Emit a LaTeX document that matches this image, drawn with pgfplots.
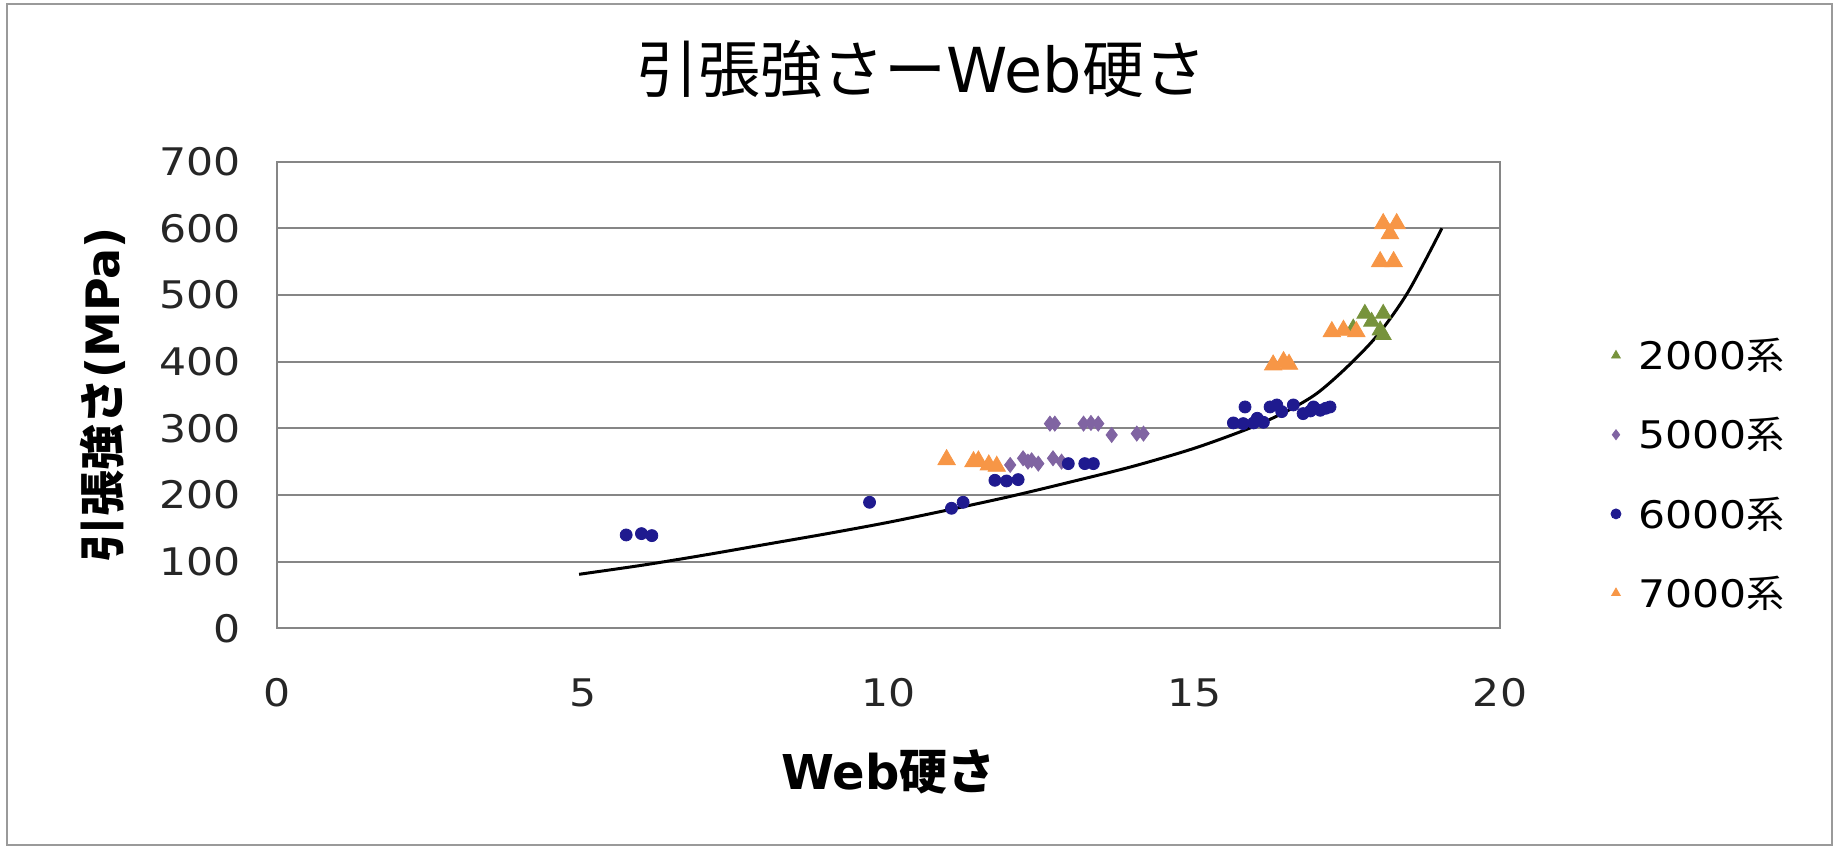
\documentclass[border=0pt]{standalone}
\usepackage{pgfplots}
\pgfplotsset{compat=1.18}
\usepackage{fontspec}
\setmainfont{DejaVu Sans}
\newfontfamily\wide{DejaVu Sans}[FakeStretch=1.12]
\newfontfamily\jp{Noto Sans CJK JP}
\definecolor{gridgray}{HTML}{868686}
\definecolor{framegray}{HTML}{9A9A9A}
\definecolor{s2000}{HTML}{77933C}
\definecolor{s5000}{HTML}{8064A2}
\definecolor{s6000}{HTML}{1F1A8F}
\definecolor{s7000}{HTML}{F79646}
\begin{document}
\begin{tikzpicture}[x=1pt,y=1pt]
\useasboundingbox (0,0) rectangle (917.5,425);
\draw[color=framegray, line width=0.9pt] (3.5,2.5) rectangle (916,423);
\begin{axis}[
  at={(138.5pt,110.85pt)}, anchor=south west,
  scale only axis, width=611.5pt, height=233.35pt,
  xmin=0, xmax=20, ymin=0, ymax=700,
  xtick={0,5,10,15,20}, ytick={0,100,200,300,400,500,600,700},
  ymajorgrids,
  major grid style={gridgray, line width=1pt},
  axis line style={gridgray, line width=1pt},
  major tick length=0pt,
  /pgf/number format/assume math mode=true,
  ticklabel style={font=\wide\fontsize{19}{23}\selectfont, text=black!85},
  xticklabel style={anchor=north, inner sep=0pt, yshift=-25pt},
  yticklabel style={anchor=east, inner sep=0pt, xshift=-18pt},
  title={{\jp 引張強さー}Web{\jp 硬さ}},
  title style={font=\fontsize{31}{36}\selectfont, at={(axis description cs:0.527,1.172)}, anchor=center},
  xlabel={\bfseries Web{\jp\bfseries 硬さ}},
  xlabel style={font=\fontsize{24}{28}\selectfont, at={(axis description cs:0.5,-0.308)}, anchor=center},
  ylabel={{\jp\bfseries 引張強さ}\bfseries(MPa)},
  ylabel style={font=\fontsize{23}{27}\selectfont, at={(axis description cs:-0.142,0.5)}, anchor=center},
  legend style={draw=none, fill=none, font=\wide\fontsize{19}{23}\selectfont,
    at={(axis description cs:1.162,0.33)}, anchor=center, row sep=18.4pt},
  legend cell align=left,
  legend image code/.code={\path (-4pt,0pt) (9pt,0pt); \draw[#1,mark size=2.5pt] plot coordinates {(0pt,0pt)};},
]
\addplot[only marks, mark=triangle*, mark size=4.6pt, color=s2000, mark options={draw=s2000, fill=s2000}]
coordinates {(17.79,472) (18.09,472) (17.60,450) (18.04,447) (18.09,440) (17.90,460)};
\addlegendentry{2000{\jp 系}}
\addplot[only marks, mark=diamond*, mark size=3.75pt, color=s5000, mark options={draw=s5000, fill=s5000}]
coordinates {(12.64,307) (12.72,307) (13.19,307) (13.31,308) (13.43,307) (13.65,290) (14.06,292) (14.17,292)
 (11.99,245) (12.20,255) (12.34,252) (12.45,247) (12.28,250) (12.69,255) (12.83,250)};
\addlegendentry{5000{\jp 系}}
\addplot[only marks, mark=*, mark size=3pt, color=s6000, mark options={draw=s6000, fill=s6000}]
coordinates {(5.71,140) (5.96,142) (6.13,139) (9.69,189) (11.03,180) (11.22,189)
 (11.74,222) (11.93,221) (12.12,223) (12.94,247) (13.21,247) (13.35,247)
 (15.64,308) (15.80,307) (15.97,308) (16.13,309) (16.03,315)
 (15.83,332) (16.24,332) (16.35,335) (16.43,325) (16.62,335) (16.78,322) (16.90,326)
 (16.95,332) (17.06,327) (17.15,330) (17.22,332)};
\addlegendentry{6000{\jp 系}}
\addplot[only marks, mark=triangle*, mark size=5pt, color=s7000, mark options={draw=s7000, fill=s7000}]
coordinates {(10.95,253) (11.39,250) (11.47,251) (11.64,245) (11.77,243)
 (16.29,395) (16.46,400) (16.55,396) (17.25,445) (17.44,447) (17.65,445)
 (18.04,550) (18.26,550) (18.09,607) (18.31,607) (18.20,592)};
\addlegendentry{7000{\jp 系}}
\addplot[forget plot, black, line width=1.5pt, smooth, no marks]
coordinates {(4.94,81) (6.0,95) (7.0,110) (8.0,126) (9.0,142) (10.0,159) (11.0,178) (12.0,198)
 (13.0,220) (14.0,243) (15.0,270) (15.9,300) (16.5,325) (17.0,352) (17.5,392) (18.0,440)
 (18.5,505) (19.05,600)};
\end{axis}
\end{tikzpicture}
\end{document}
